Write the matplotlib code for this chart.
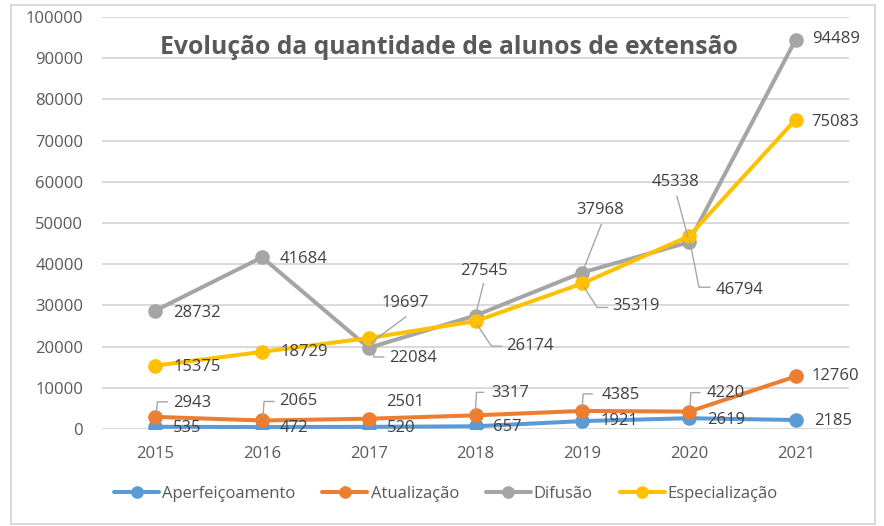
import matplotlib
matplotlib.use("Agg")
import matplotlib.pyplot as plt
from matplotlib.patches import Rectangle
from matplotlib.lines import Line2D
import numpy as np

# ---------------- data ----------------
years = ["2015", "2016", "2017", "2018", "2019", "2020", "2021"]
aperfeicoamento = [535, 472, 520, 657, 1921, 2619, 2185]
atualizacao = [2943, 2065, 2501, 3317, 4385, 4220, 12760]
difusao = [28732, 41684, 19697, 27545, 37968, 45338, 94489]
especializacao = [15375, 18729, 22084, 26174, 35319, 46794, 75083]
series_names = ["Aperfeiçoamento", "Atualização", "Difusão", "Especialização"]
title = "Evolução da quantidade de alunos de extensão"
y_ticks = [0, 10000, 20000, 30000, 40000, 50000, 60000, 70000, 80000, 90000, 100000]

# ---------------- styles ----------------
colors = ["#5B9BD5", "#ED7D31", "#A5A5A5", "#FFC000"]
TXT = "#595959"
LBL = "#404040"
GRID = "#D9D9D9"
LEAD = "#A6A6A6"
FONT = "Open Sans"

# label offsets (pixels, y up) and optional leader polylines (pixel offsets from point)
R = lambda dy=-1: ((18, dy), None)
label_layout = [
    [R(-1), R(-1), R(-1), R(-1), R(0), R(-2), R(-1)],
    [((18, 14), [(1, 5), (2, 15), (12, 15)]),
     ((17, 19), [(1, 5), (2, 19), (12, 19)]),
     ((17, 17), None),
     ((16, 22), [(0, 5), (1, 23), (8, 23)]),
     ((19, 16), [(0, 5), (1, 17), (10, 17)]),
     ((18, 19), [(1, 5), (2, 19), (11, 19)]),
     ((16, 0), None)],
    [R(-2), R(-2),
     ((13, 45), [(2, 5), (37, 31)]),
     ((-15, 45), [(8, 32), (1, 4)]),
     ((-6, 63), [(19, 48), (2, 5)]),
     ((-37, 60), [(-12, 46), (-1, 5)]),
     ((16, 1), None)],
    [R(-1), R(0),
     ((20, -20), [(4, -4), (5, -19), (15, -19)]),
     ((31, -25), [(2, -4), (16, -25), (26, -25)]),
     ((30, -23), [(2, -4), (15, -24), (25, -24)]),
     ((27, -54), [(1, -5), (10, -51), (21, -51)]),
     ((16, -2), None)],
]

W, H = 884, 526
fig = plt.figure(figsize=(W / 100, H / 100), dpi=100)
plt.rcParams["font.family"] = [FONT, "DejaVu Sans"]

ax = fig.add_axes([102 / W, (H - 429) / H, (849 - 102) / W, (429 - 17) / H])
x = np.arange(len(years))
data = [aperfeicoamento, atualizacao, difusao, especializacao]

for vals, name, c in zip(data, series_names, colors):
    ax.plot(x, vals, color=c, lw=2.9, marker="o", ms=9.5, label=name,
            solid_capstyle="round", zorder=3)

ax.set_xlim(-0.5, len(years) - 0.5)
ax.set_ylim(0, 100000)
ax.set_yticks(y_ticks)
ax.set_yticklabels([str(t) for t in y_ticks])
ax.set_xticks(x)
ax.set_xticklabels(years)
ax.tick_params(axis="both", length=0, labelsize=12, colors=TXT)
ax.tick_params(axis="y", pad=13.5)
ax.tick_params(axis="x", pad=12)
for s in ax.spines.values():
    s.set_visible(False)
ax.yaxis.grid(True, color=GRID, lw=1.4, zorder=0)
ax.set_axisbelow(True)

# data labels
for vals, lay in zip(data, label_layout):
    for i, v in enumerate(vals):
        (dx, dy), lead = lay[i]
        ax.annotate(str(v), xy=(i, v), xytext=(dx, dy), textcoords="offset pixels",
                    ha="left", va="center", fontsize=12, color=LBL, zorder=5)
        if lead:
            px, py = ax.transData.transform((i, v))
            xs = [px + a for a, b in lead]
            ys = [py + b for a, b in lead]
            fig.add_artist(Line2D(xs, ys, transform=None, color=LEAD, lw=1.0, zorder=4))

# title
fig.text(449 / W, 1 - 47 / H, title, ha="center", va="center", fontsize=17.8,
         fontweight="bold", color=TXT)

# legend
fig.legend(loc="center", bbox_to_anchor=(446 / W, 1 - 494 / H), ncol=4, frameon=False,
           fontsize=12, labelcolor=TXT, handlelength=2.7, handletextpad=0.2,
           columnspacing=1.6, markerscale=0.85)

# outer frame
fig.add_artist(Rectangle((11 / W, 2 / H), (875 - 11) / W, (521 - 2) / H,
                         transform=fig.transFigure, fill=False, edgecolor=GRID, lw=1.4))

fig.savefig("out.png", dpi=100)
